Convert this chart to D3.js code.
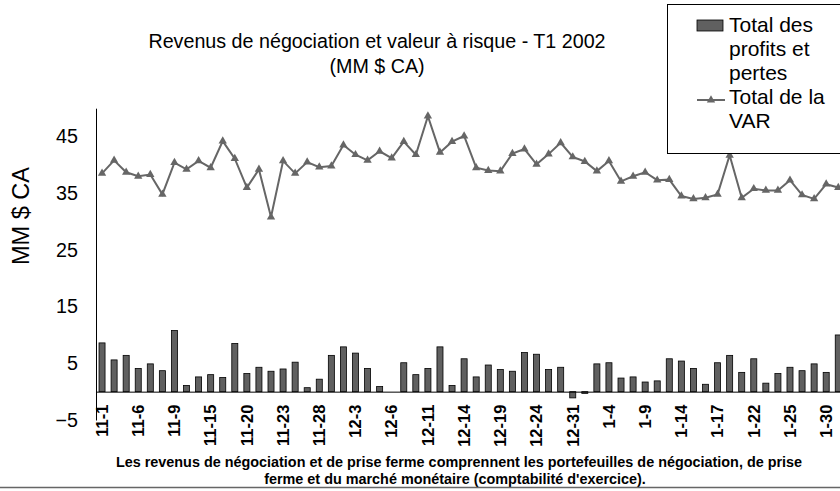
<!DOCTYPE html>
<html>
<head>
<meta charset="utf-8">
<script src="https://cdn.jsdelivr.net/npm/d3@7"></script>
<style>
  body { margin: 0; background: #fff; }
  text { font-family: "Liberation Sans", Arial, sans-serif; fill: #000; }
</style>
</head>
<body>
<div id="chart-area"></div>
<script>
// trading days, T1 2002
var days = ["11-1", "11-2", "11-5", "11-6", "11-7", "11-8", "11-9", "11-13", "11-14", "11-15",
  "11-16", "11-19", "11-20", "11-21", "11-22", "11-23", "11-26", "11-27", "11-28", "11-29",
  "11-30", "12-3", "12-4", "12-5", "12-6", "12-7", "12-10", "12-11", "12-12", "12-13",
  "12-14", "12-17", "12-18", "12-19", "12-20", "12-21", "12-24", "12-27", "12-28", "12-31",
  "1-2", "1-3", "1-4", "1-7", "1-8", "1-9", "1-10", "1-11", "1-14", "1-15",
  "1-16", "1-17", "1-18", "1-21", "1-22", "1-23", "1-24", "1-25", "1-28", "1-29",
  "1-30", "1-31"];

// Total des profits et pertes
var pnl = [8.6, 5.6, 6.4, 4.1, 4.9, 3.7, 10.8, 1.1, 2.6, 3.0,
  2.5, 8.5, 3.2, 4.3, 3.6, 4.0, 5.2, 0.7, 2.2, 6.4,
  7.9, 6.8, 4.1, 0.9, 0, 5.1, 3.0, 4.1, 7.9, 1.1,
  5.8, 2.6, 4.7, 3.9, 3.6, 6.9, 6.6, 3.9, 4.3, -1.1,
  -0.3, 4.9, 5.1, 2.4, 2.6, 1.7, 1.9, 5.8, 5.4, 4.1,
  1.3, 5.1, 6.4, 3.4, 5.8, 1.5, 3.2, 4.3, 3.7, 4.9,
  3.4, 10.0];

// Total de la VAR
var varTotal = [38.5, 40.8, 38.7, 38.0, 38.3, 34.8, 40.4, 39.2, 40.7, 39.5,
  44.2, 41.1, 36.0, 39.2, 30.8, 40.7, 38.5, 40.5, 39.6, 39.8,
  43.5, 41.8, 40.8, 42.4, 41.2, 44.1, 41.8, 48.6, 42.2, 44.1,
  45.1, 39.5, 39.0, 38.9, 42.0, 42.8, 40.1, 41.9, 43.9, 41.4,
  40.6, 38.9, 40.7, 37.1, 38.0, 38.7, 37.3, 37.4, 34.5, 34.0,
  34.2, 34.8, 41.7, 34.2, 35.8, 35.5, 35.5, 37.3, 34.7, 34.0,
  36.6, 36.0];

var yTicks = [-5, 5, 15, 25, 35, 45];
var xTickLabels = days.filter((d, i) => i % 3 === 0);

var svg = d3.select("#chart-area")
  .append("svg")
  .attr("width", 840)
  .attr("height", 491);

var x = d3.scaleBand()
  .domain(days)
  .range([96, 844.3])
  .paddingInner(0.5)
  .paddingOuter(0.25);

var y = d3.scaleLinear()
  .domain([-5, 50])
  .range([420, 108.2]);

// bars
svg.append("g")
  .selectAll("rect")
  .data(pnl)
  .enter()
  .append("rect")
  .attr("x", (d, i) => x(days[i]))
  .attr("y", d => y(Math.max(0, d)))
  .attr("width", x.bandwidth())
  .attr("height", d => Math.abs(y(d) - y(0)))
  .attr("fill", "#606060")
  .attr("stroke", "#000")
  .attr("stroke-width", 0.8);

// y axis
var yAxisCall = d3.axisLeft(y)
  .tickValues(yTicks)
  .tickSize(0)
  .tickPadding(18);
var yAxis = svg.append("g")
  .attr("class", "y axis")
  .attr("transform", "translate(96,0)")
  .call(yAxisCall);
yAxis.select(".domain").attr("stroke", "#000");
yAxis.selectAll("text")
  .attr("font-size", "19.7px")
  .attr("font-family", "Liberation Sans, Arial, sans-serif");

// x axis at zero
var xAxisCall = d3.axisBottom(x)
  .tickValues(xTickLabels)
  .tickSize(0)
  .tickSizeOuter(0);
var xAxis = svg.append("g")
  .attr("class", "x axis")
  .attr("transform", "translate(0," + y(0) + ")")
  .call(xAxisCall);
xAxis.select(".domain")
  .attr("stroke", "#000")
  .attr("d", "M96,0.5H840");
xAxis.selectAll("text")
  .attr("font-size", "16.5px")
  .attr("font-weight", "bold")
  .attr("font-family", "Liberation Sans, Arial, sans-serif")
  .attr("text-anchor", "end")
  .attr("y", 0)
  .attr("x", 0)
  .attr("dy", "0.35em")
  .attr("transform", "translate(0,13) rotate(-90)");

// VAR line
var line = d3.line()
  .x((d, i) => x(days[i]) + x.bandwidth() / 2)
  .y(d => y(d));

svg.append("path")
  .datum(varTotal)
  .attr("d", line)
  .attr("fill", "none")
  .attr("stroke", "#666")
  .attr("stroke-width", 2);

var tri = d3.symbol().type(d3.symbolTriangle).size(30);
svg.append("g")
  .selectAll("path")
  .data(varTotal)
  .enter()
  .append("path")
  .attr("d", tri)
  .attr("transform", (d, i) => "translate(" + (x(days[i]) + x.bandwidth() / 2) + "," + y(d) + ")")
  .attr("fill", "#666");

// titles
svg.append("text")
  .attr("x", 377)
  .attr("y", 48)
  .attr("font-size", "19.7px")
  .attr("text-anchor", "middle")
  .text("Revenus de négociation et valeur à risque - T1 2002");
svg.append("text")
  .attr("x", 377)
  .attr("y", 73)
  .attr("font-size", "19.7px")
  .attr("text-anchor", "middle")
  .text("(MM $ CA)");

svg.append("text")
  .attr("x", -216)
  .attr("y", 29)
  .attr("font-size", "23.5px")
  .attr("text-anchor", "middle")
  .attr("transform", "rotate(-90)")
  .text("MM $ CA");

// footnote
svg.append("text")
  .attr("x", 459)
  .attr("y", 467)
  .attr("font-size", "14.4px")
  .attr("font-weight", "bold")
  .attr("text-anchor", "middle")
  .text("Les revenus de négociation et de prise ferme comprennent les portefeuilles de négociation, de prise");
svg.append("text")
  .attr("x", 455)
  .attr("y", 484)
  .attr("font-size", "14.4px")
  .attr("font-weight", "bold")
  .attr("text-anchor", "middle")
  .text("ferme et du marché monétaire (comptabilité d'exercice).");

svg.append("line")
  .attr("x1", 0)
  .attr("x2", 840)
  .attr("y1", 487.5)
  .attr("y2", 487.5)
  .attr("stroke", "#666")
  .attr("stroke-width", 1.5);

// legend
var legend = svg.append("g").attr("class", "legend");
legend.append("rect")
  .attr("x", 667.5)
  .attr("y", 4.5)
  .attr("width", 180)
  .attr("height", 149)
  .attr("fill", "#fff")
  .attr("stroke", "#000");
legend.append("rect")
  .attr("x", 697)
  .attr("y", 20)
  .attr("width", 26)
  .attr("height", 11)
  .attr("fill", "#606060")
  .attr("stroke", "#000")
  .attr("stroke-width", 0.8);
legend.append("line")
  .attr("x1", 697)
  .attr("x2", 725)
  .attr("y1", 100)
  .attr("y2", 100)
  .attr("stroke", "#666")
  .attr("stroke-width", 2);
legend.append("path")
  .attr("d", tri)
  .attr("transform", "translate(711,100)")
  .attr("fill", "#666");

var legendLines = [["Total des", 32], ["profits et", 56], ["pertes", 80], ["Total de la", 104], ["VAR", 128]];
legend.selectAll(".ltext")
  .data(legendLines)
  .enter()
  .append("text")
  .attr("class", "ltext")
  .attr("x", 729)
  .attr("y", d => d[1])
  .attr("font-size", "21px")
  .text(d => d[0]);
</script>
</body>
</html>
